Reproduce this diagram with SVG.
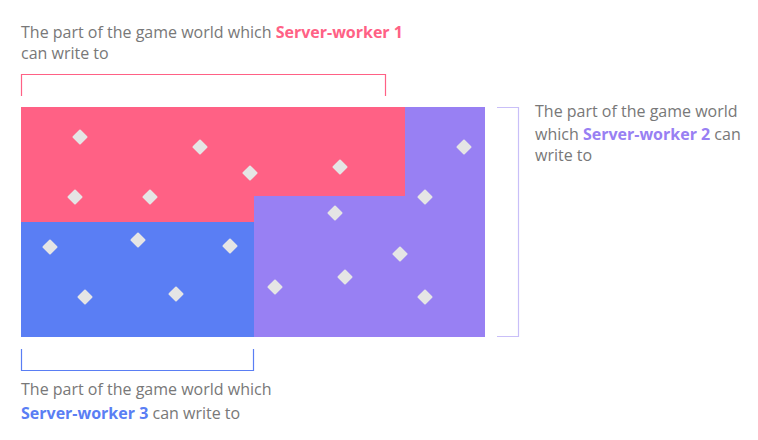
<svg xmlns="http://www.w3.org/2000/svg" width="758" height="440" viewBox="0 0 758 440">
<style>
.t{font-family:"Open Sans","Noto Sans","Liberation Sans",sans-serif;font-size:16px;fill:#787878}
.b{font-weight:bold}
.d{fill:#e5e5e5}
.br{fill:none;stroke-width:1.2}
</style>
<defs>
<rect id="dm" x="-5.6" y="-5.6" width="11.2" height="11.2" rx="1" transform="rotate(45)"/>
</defs>
<rect width="758" height="440" fill="#ffffff"/>
<g id="region-worker1">
<path d="M21 107H405V196H254V222H21Z" fill="#ff6185"/>
</g>
<g id="region-worker3">
<rect x="21" y="222" width="233" height="115" fill="#5a7ef4"/>
</g>
<g id="region-worker2">
<path d="M405 107H485V337H254V196H405Z" fill="#9880f3"/>
</g>
<g id="entities" class="d">
<use href="#dm" x="80" y="137"/>
<use href="#dm" x="200" y="147"/>
<use href="#dm" x="250" y="173"/>
<use href="#dm" x="75" y="197"/>
<use href="#dm" x="150" y="197"/>
<use href="#dm" x="340" y="167"/>
<use href="#dm" x="464" y="147"/>
<use href="#dm" x="425" y="197"/>
<use href="#dm" x="335" y="213"/>
<use href="#dm" x="50" y="247"/>
<use href="#dm" x="138" y="240"/>
<use href="#dm" x="230" y="246"/>
<use href="#dm" x="85" y="297"/>
<use href="#dm" x="176" y="294"/>
<use href="#dm" x="400" y="254"/>
<use href="#dm" x="345" y="277"/>
<use href="#dm" x="275" y="287"/>
<use href="#dm" x="425" y="297"/>
</g>
<g id="brackets">
<path class="br" d="M21.5 96V74.5H385.5V96" stroke="#ff6185"/>
<path class="br" d="M497 107.5H518.5V336.5H497" stroke="#c9bff8" stroke-width="1.5"/>
<path class="br" d="M21.5 349V370.5H253.5V349" stroke="#5a7ef4"/>
</g>
<g id="label-worker1">
<text class="t" x="21" y="38">The part of the game world which <tspan class="b" style="fill:#ff6185">Server-worker 1</tspan></text>
<text class="t" x="21" y="59">can write to</text>
</g>
<g id="label-worker2">
<text class="t" x="535" y="117">The part of the game world</text>
<text class="t" x="535" y="140">which <tspan class="b" style="fill:#9880f3">Server-worker 2</tspan> can</text>
<text class="t" x="535" y="161">write to</text>
</g>
<g id="label-worker3">
<text class="t" x="21" y="395">The part of the game world which</text>
<text class="t" x="21" y="419"><tspan class="b" style="fill:#5a7ef4">Server-worker 3</tspan> can write to</text>
</g>
</svg>
